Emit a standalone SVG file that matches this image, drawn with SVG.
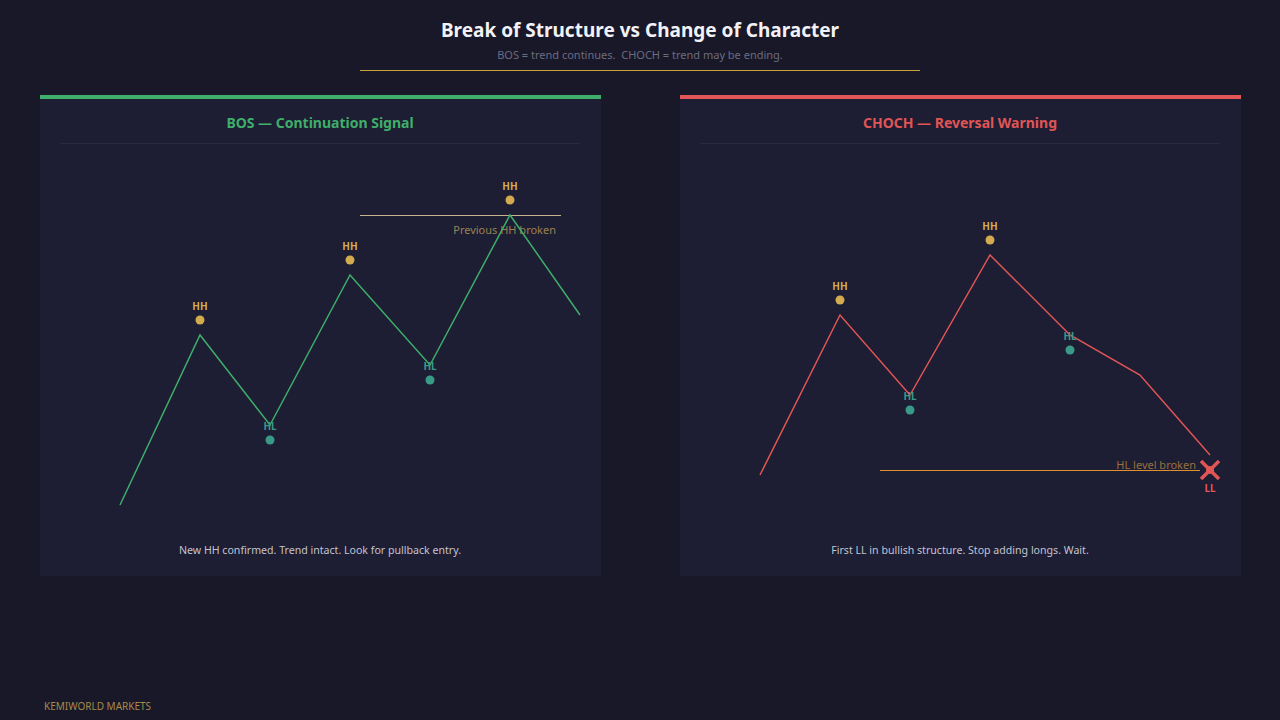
<svg xmlns="http://www.w3.org/2000/svg" width="1280" height="720" viewBox="0 0 1280 720">
<style>
text{font-family:"Noto Sans","Open Sans","Liberation Sans",sans-serif}
.title{font-size:19px;font-weight:bold;fill:#f2f2f6}
.sub{font-size:11px;fill:#6c6c80}
.ptitle{font-size:14px;font-weight:bold}
.lbl{font-size:10px;font-weight:bold}
.hh{fill:#d4ac50}
.hl{fill:#3a9a88}
.cap{font-size:10.6px;fill:#c4c4d0}
.note{font-size:11px}
.panel{fill:#1d1d33}
.sep{stroke:#29293f;stroke-width:1}
</style>
<rect width="1280" height="720" fill="#181828"/>
<g id="header">
<text class="title" x="640" y="37" text-anchor="middle">Break of Structure vs Change of Character</text>
<text class="sub" x="640" y="59" text-anchor="middle" xml:space="preserve">BOS = trend continues.  CHOCH = trend may be ending.</text>
<line x1="360" y1="70.5" x2="920" y2="70.5" stroke="#c9a03c" stroke-width="1"/>
</g>
<g id="panel-bos">
<rect class="panel" x="40" y="95" width="561" height="481"/>
<rect x="40" y="95" width="561" height="4" fill="#3fae6a"/>
<text class="ptitle" x="320" y="128" text-anchor="middle" fill="#3fae6a">BOS — Continuation Signal</text>
<line class="sep" x1="60" y1="143.5" x2="580" y2="143.5"/>
<line x1="360" y1="215.5" x2="561" y2="215.5" stroke="#c8b48c" stroke-width="1"/>
<text class="note" x="556" y="234" text-anchor="end" fill="#9a8250">Previous HH broken</text>
<polyline points="120,505 200,335 270,425 350,275 430,365 510,215 580,315" fill="none" stroke="#3fae6a" stroke-width="1.5"/>
<circle cx="200" cy="320" r="4.5" class="hh"/><text class="lbl hh" x="200" y="310" text-anchor="middle">HH</text>
<circle cx="270" cy="440" r="4.5" class="hl"/><text class="lbl hl" x="270" y="430" text-anchor="middle">HL</text>
<circle cx="350" cy="260" r="4.5" class="hh"/><text class="lbl hh" x="350" y="250" text-anchor="middle">HH</text>
<circle cx="430" cy="380" r="4.5" class="hl"/><text class="lbl hl" x="430" y="370" text-anchor="middle">HL</text>
<circle cx="510" cy="200" r="4.5" class="hh"/><text class="lbl hh" x="510" y="190" text-anchor="middle">HH</text>
<text class="cap" x="320" y="554" text-anchor="middle">New HH confirmed. Trend intact. Look for pullback entry.</text>
</g>
<g id="panel-choch">
<rect class="panel" x="680" y="95" width="561" height="481"/>
<rect x="680" y="95" width="561" height="4" fill="#e05555"/>
<text class="ptitle" x="960" y="128" text-anchor="middle" fill="#e05555">CHOCH — Reversal Warning</text>
<line class="sep" x1="700" y1="143.5" x2="1220" y2="143.5"/>
<line x1="880" y1="470.5" x2="1200" y2="470.5" stroke="#e0902c" stroke-width="1"/>
<text class="note" x="1196" y="469" text-anchor="end" fill="#9a7040">HL level broken</text>
<polyline points="760,475 840,315 910,395 990,255 1070,335 1140,375 1210,455" fill="none" stroke="#e05555" stroke-width="1.5"/>
<circle cx="840" cy="300" r="4.5" class="hh"/><text class="lbl hh" x="840" y="290" text-anchor="middle">HH</text>
<circle cx="910" cy="410" r="4.5" class="hl"/><text class="lbl hl" x="910" y="400" text-anchor="middle">HL</text>
<circle cx="990" cy="240" r="4.5" class="hh"/><text class="lbl hh" x="990" y="230" text-anchor="middle">HH</text>
<circle cx="1070" cy="350" r="4.5" class="hl"/><text class="lbl hl" x="1070" y="340" text-anchor="middle">HL</text>
<g stroke="#e05555" stroke-width="3.5">
<line x1="1201" y1="461" x2="1219" y2="479"/><line x1="1219" y1="461" x2="1201" y2="479"/>
</g>
<circle cx="1210" cy="470" r="4" fill="#e05555"/>
<text class="lbl" x="1210" y="492" text-anchor="middle" fill="#e05555">LL</text>
<text class="cap" x="960" y="554" text-anchor="middle">First LL in bullish structure. Stop adding longs. Wait.</text>
</g>
<g id="footer">
<text x="44" y="710" font-size="10" fill="#a88a48">KEMIWORLD MARKETS</text>
</g>
</svg>
